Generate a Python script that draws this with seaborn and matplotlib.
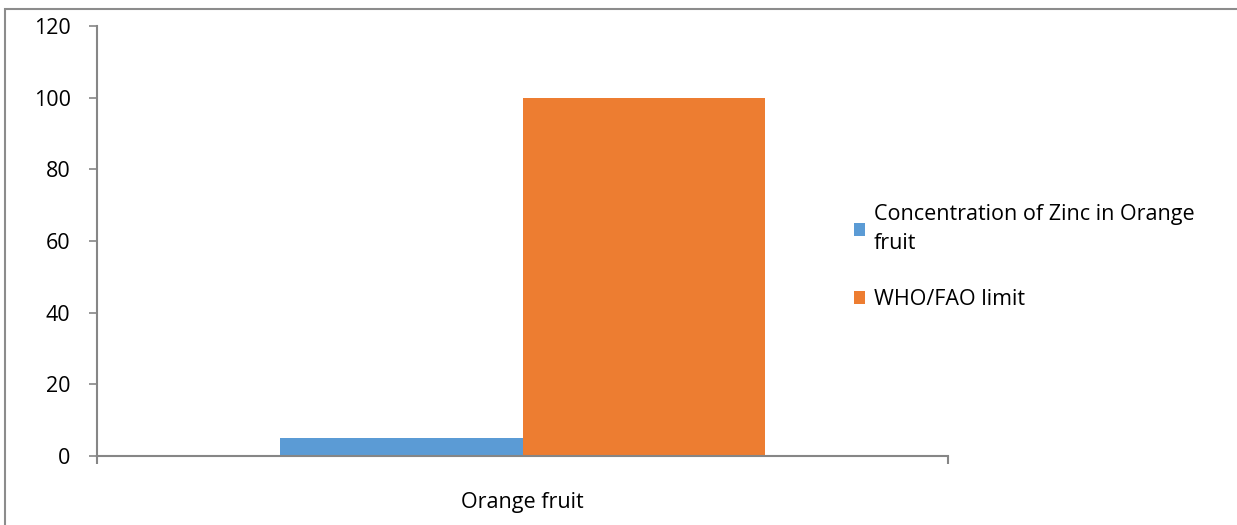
import matplotlib
matplotlib.use("Agg")
import matplotlib.pyplot as plt
import seaborn as sns
import pandas as pd
from matplotlib.patches import Rectangle

categories = ["Orange fruit"]
series_names = ["Concentration of Zinc in Orange\nfruit", "WHO/FAO limit"]
zinc_values = [5.0]
limit_values = [100.0]
y_ticks = [0, 20, 40, 60, 80, 100, 120]
colors = ["#5B9BD5", "#ED7D31"]

df = pd.DataFrame({
    "category": categories * 2,
    "series": [series_names[0]] * len(categories) + [series_names[1]] * len(categories),
    "value": zinc_values + limit_values,
})

sns.set_theme(style="white")
plt.rcParams["font.family"] = ["Open Sans", "DejaVu Sans"]

fig = plt.figure(figsize=(12.37, 5.25), dpi=100)
ax = fig.add_axes([97 / 1237, 1 - 456 / 525, 851 / 1237, 430 / 525])

sns.barplot(data=df, x="category", y="value", hue="series", palette=colors,
            width=0.571, saturation=1, linewidth=0, ax=ax, legend=True)

ax.set_xlim(-0.5, 0.5)
ax.set_ylim(0, 120)
ax.set_yticks(y_ticks)
ax.set_yticklabels([str(t) for t in y_ticks], fontsize=15.5, color="#000000")
ax.set_xlabel("")
ax.set_ylabel("")

spine_color = "#868686"
for side in ["top", "right"]:
    ax.spines[side].set_visible(False)
for side in ["left", "bottom"]:
    ax.spines[side].set_color(spine_color)
    ax.spines[side].set_linewidth(1.5)

ax.tick_params(axis="y", which="major", length=6, width=1.2, color=spine_color,
               direction="out", left=True, pad=13, labelcolor="#000000")
ax.tick_params(axis="x", which="major", length=0, labelsize=15.5, pad=26, labelcolor="#000000")
ax.set_xticks([-0.5, 0.5], minor=True)
ax.tick_params(axis="x", which="minor", length=6, width=1.5, color=spine_color,
               direction="out", bottom=True)

leg = ax.legend(loc="center left", bbox_to_anchor=(845 / 1237, 1 - 257 / 525),
                bbox_transform=fig.transFigure, frameon=False, labelcolor="#000000",
                fontsize=15.5, handlelength=0.55, handleheight=0.55, handletextpad=0.4,
                labelspacing=1.6, borderaxespad=0.0)
for txt in leg.get_texts():
    txt.set_linespacing(1.5)

# chart-area frame
fig.patches.append(Rectangle((5 / 1237, -0.1), 1.2, 1.1 - 9 / 525, transform=fig.transFigure,
                             fill=False, edgecolor="#8c8c8c", linewidth=1.5))

fig.savefig("out.png", dpi=100, facecolor="white")
